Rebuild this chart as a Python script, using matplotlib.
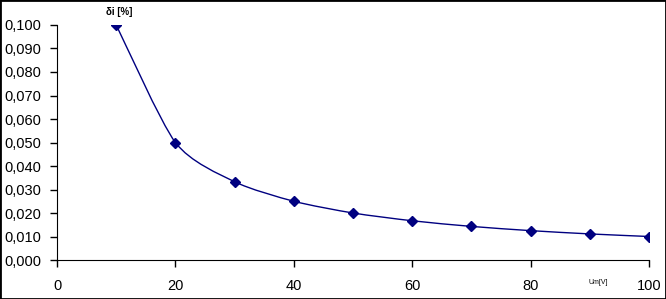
import numpy as np
import matplotlib.pyplot as plt
from matplotlib.path import Path
from matplotlib.patches import PathPatch, Rectangle
from matplotlib.ticker import FuncFormatter

plt.rcParams['font.family'] = ['Liberation Sans', 'DejaVu Sans']

# measurement data
um = [10, 20, 30, 40, 50, 60, 70, 80, 90, 100]
delta_i = [0.100, 0.050, 0.0333, 0.025, 0.020, 0.0167, 0.0143, 0.0125, 0.0111, 0.010]

color = '#000080'

fig = plt.figure(figsize=(6.66, 2.99), dpi=100)
ax = fig.add_axes([0.0856, 0.1304, 0.889, 0.786])

# smoothed line (cardinal spline drawn as cubic bezier, like Excel's smoothing)
x = np.array(um, dtype=float)
y = np.array(delta_i, dtype=float)
k = 1 / 8
verts = [(x[0], y[0])]
codes = [Path.MOVETO]
n = len(x)
for i in range(n - 1):
    p0 = (x[i - 1], y[i - 1]) if i > 0 else (x[i], y[i])
    p1 = (x[i], y[i])
    p2 = (x[i + 1], y[i + 1])
    p3 = (x[i + 2], y[i + 2]) if i + 2 < n else p2
    c1 = (p1[0] + (p2[0] - p0[0]) * k, p1[1] + (p2[1] - p0[1]) * k)
    c2 = (p2[0] - (p3[0] - p1[0]) * k, p2[1] - (p3[1] - p1[1]) * k)
    verts += [c1, c2, p2]
    codes += [Path.CURVE4] * 3
ax.add_patch(PathPatch(Path(verts, codes), fill=False, edgecolor=color, lw=1.0))
ax.plot(um, delta_i, linestyle='none', marker='D', markersize=5, color=color)

ax.set_xlim(0, 100)
ax.set_ylim(0, 0.100)
ax.set_xticks(np.arange(0, 101, 20))
ax.set_yticks(np.arange(0, 0.1001, 0.01))
ax.yaxis.set_major_formatter(FuncFormatter(lambda v, p: f"{v:.3f}".replace('.', ',')))
ax.spines['top'].set_visible(False)
ax.spines['right'].set_visible(False)
ax.tick_params(direction='out', length=5, width=1, labelsize=10.5, pad=6)
ax.tick_params(axis='x', pad=9)

fig.text(119 / 666, 1 - 12 / 299, 'δi [%]', fontsize=7, fontweight='bold', ha='center', va='center')
fig.text(598 / 666, 1 - 282 / 299, 'Um[V]', fontsize=5, ha='center', va='center')

fig.patches.append(Rectangle((0, 0), 1, 1, transform=fig.transFigure, fill=False,
                             edgecolor='black', lw=2))

fig.savefig('out.png', dpi=100)
